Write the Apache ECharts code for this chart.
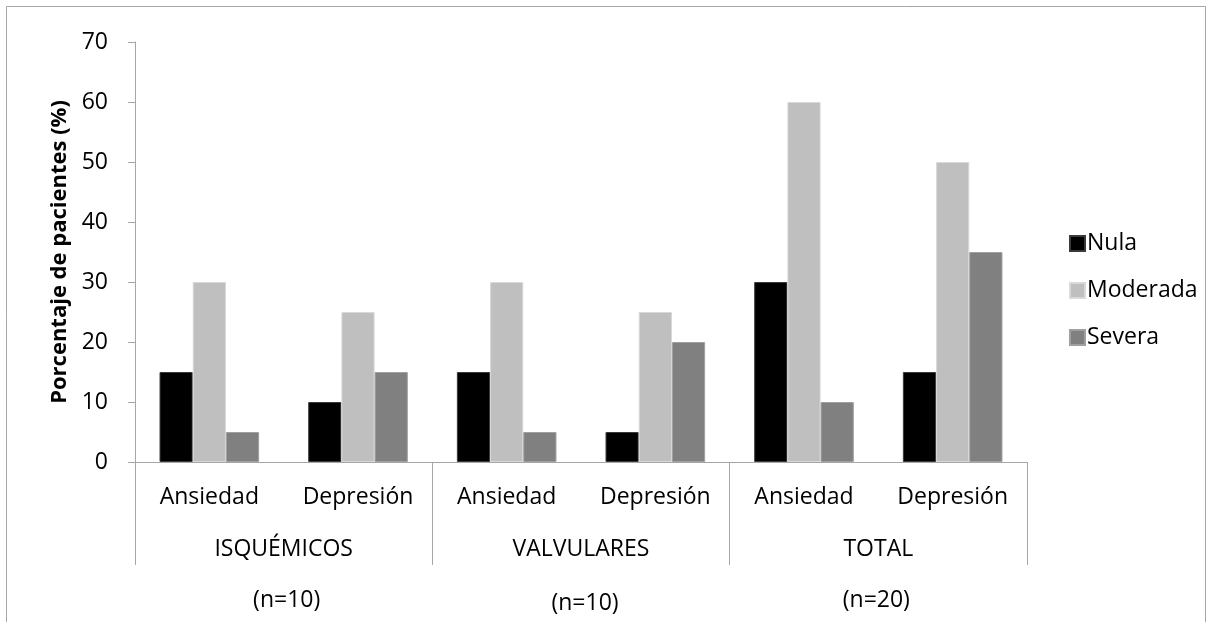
<!DOCTYPE html>
<html>
<head>
<meta charset="utf-8">
<script src="https://cdn.jsdelivr.net/npm/echarts@6/dist/echarts.min.js"></script>
<style>html,body{margin:0;padding:0;background:#fff}#c{width:1209px;height:622px}</style>
</head>
<body>
<div id="c"></div>
<script>
const categories = ['Ansiedad', 'Depresión', 'Ansiedad', 'Depresión', 'Ansiedad', 'Depresión'];
const groups = ['ISQUÉMICOS', 'VALVULARES', 'TOTAL'];
const groupN = ['(n=10)', '(n=10)', '(n=20)'];
const seriesNames = ['Nula', 'Moderada', 'Severa'];
const nula = [15, 10, 15, 5, 30, 15];
const moderada = [30, 25, 30, 25, 60, 50];
const severa = [5, 15, 5, 20, 10, 35];
const yTicks = { min: 0, max: 70, interval: 10 };

const FONT = 'Open Sans';
const FS = 23;
const chart = echarts.init(document.getElementById('c'), null, { renderer: 'canvas' });
const colors = ['#000000', '#bfbfbf', '#808080'];
const borders = ['#3a3a3a', '#d9d9d9', '#a0a0a0'];
const values = [nula, moderada, severa];
const nStyles = ['a', 'b', 'c'];

chart.setOption({
  animation: false,
  textStyle: { fontFamily: FONT },
  graphic: [{
    type: 'rect', shape: { x: 6.5, y: 6.5, width: 1199, height: 700 },
    style: { fill: 'none', stroke: '#a6a6a6', lineWidth: 1 }, silent: true
  }],
  grid: { left: 135, right: 182, top: 42, bottom: 160, containLabel: false },
  legend: {
    orient: 'vertical', left: 1064, top: 227,
    itemWidth: 15, itemHeight: 15, itemGap: 24,
    icon: 'rect',
    textStyle: { fontFamily: FONT, fontSize: FS, color: '#000', padding: [0, 0, 0, -3] },
    data: seriesNames
  },
  xAxis: [
    {
      type: 'category', data: categories, position: 'bottom',
      axisLine: { show: true, lineStyle: { color: '#a6a6a6', width: 1 } },
      axisTick: { show: false },
      axisLabel: { margin: 24, fontFamily: FONT, fontSize: FS, color: '#000', interval: 0 }
    },
    {
      type: 'category', data: groups, position: 'bottom', gridIndex: 0,
      axisLine: { show: false },
      axisTick: { show: true, length: 103, interval: 0, lineStyle: { color: '#a6a6a6' } },
      axisLabel: { margin: 76, fontFamily: FONT, fontSize: FS, color: '#000', interval: 0 }
    },
    {
      type: 'category', data: groupN, position: 'bottom', gridIndex: 0,
      axisLine: { show: false }, axisTick: { show: false },
      axisLabel: {
        margin: 127, fontFamily: FONT, fontSize: FS, color: '#000', interval: 0,
        formatter: (v, i) => '{' + nStyles[i] + '|' + v + '}',
        rich: {
          a: { fontFamily: FONT, fontSize: FS, color: '#000', padding: [0, 0, 0, 6] },
          b: { fontFamily: FONT, fontSize: FS, color: '#000', padding: [3, 0, 0, 8] },
          c: { fontFamily: FONT, fontSize: FS, color: '#000', padding: [0, 0, 0, -4] }
        }
      }
    }
  ],
  yAxis: {
    type: 'value', min: yTicks.min, max: yTicks.max, interval: yTicks.interval,
    name: 'Porcentaje de pacientes (%)', nameLocation: 'middle', nameGap: 60,
    nameTextStyle: { fontFamily: FONT, fontSize: 22, fontWeight: 'bold', color: '#000' },
    axisLine: { show: true, lineStyle: { color: '#a6a6a6' } },
    axisTick: { show: true, length: 7, lineStyle: { color: '#a6a6a6' } },
    axisLabel: { margin: 27, fontFamily: FONT, fontSize: FS, color: '#000' },
    splitLine: { show: false }
  },
  series: seriesNames.map((n, i) => ({
    name: n, type: 'bar', xAxisIndex: 0, data: values[i],
    barGap: '0%', barCategoryGap: '33%',
    itemStyle: { color: colors[i], borderColor: borders[i], borderWidth: 1 }
  }))
});
</script>
</body>
</html>
